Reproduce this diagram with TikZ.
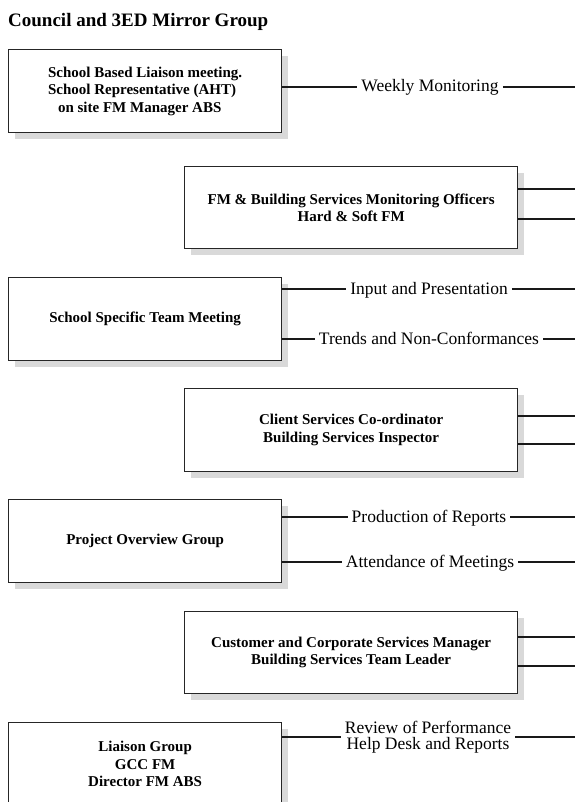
\documentclass[tikz,border=0pt]{standalone}
\usepackage{fontspec}
\setmainfont{Liberation Serif}
\usetikzlibrary{shadows}
\begin{document}
\begin{tikzpicture}[x=1pt,y=-1pt,
  box/.style={draw=black!85, line width=1.3pt, fill=white, inner sep=0pt, anchor=north west,
    font=\fontsize{15}{17.5}\selectfont\bfseries, align=center,
    drop shadow={shadow xshift=6pt, shadow yshift=-6pt, fill=black!15, opacity=1}},
  leftbox/.style={box, minimum width=273pt, minimum height=83pt},
  rightbox/.style={box, minimum width=333pt, minimum height=82pt},
  lbl/.style={font=\fontsize{17.5}{16}\selectfont, inner xsep=4pt, inner ysep=0pt,
    text height=13pt, text depth=3pt},
  lbltwo/.style={font=\fontsize{17.5}{16}\selectfont, inner xsep=4pt, inner ysep=0pt, align=center},
  link/.style={line width=1.1pt, black!90}]
\useasboundingbox[fill=white] (0,0) rectangle (575,802);

% heading
\node[anchor=base west, inner sep=0pt, font=\fontsize{19}{22}\selectfont\bfseries] (title) at (8,27)
  {Council and 3ED Mirror Group};

% boxes on the left
\node[leftbox, align=left] (b1) at (8,49)
  {School Based Liaison meeting.\\School Representative (AHT)\\\hspace*{10pt}on site FM Manager ABS};
\node[leftbox] (b3) at (8,277) {School Specific Team Meeting};
\node[leftbox] (b5) at (8,499) {Project Overview Group};
\node[leftbox] (b7) at (8,722) {Liaison Group\\GCC FM\\Director FM ABS};

% boxes on the right
\node[rightbox] (b2) at (184,166) {FM \& Building Services Monitoring Officers\\Hard \& Soft FM};
\node[rightbox, minimum height=83pt] (b4) at (184,388) {Client Services Co-ordinator\\Building Services Inspector};
\node[rightbox] (b6) at (184,611) {Customer and Corporate Services Manager\\Building Services Team Leader};

% labelled links from the left boxes
\node[lbl] (l1) at (430,87) {Weekly Monitoring};
\node[lbl] (l3a) at (429,289) {Input and Presentation};
\node[lbl] (l3b) at (429,339) {Trends and Non-Conformances};
\node[lbl] (l5a) at (429,517) {Production of Reports};
\node[lbl] (l5b) at (430,562) {Attendance of Meetings};
\node[lbltwo] (l7) at (428,737) {Review of Performance\\Help Desk and Reports};

\foreach \b/\l in {b1/l1, b3/l3a, b3/l3b, b5/l5a, b5/l5b, b7/l7} {
  \coordinate (\l-end) at (575,0 |- \l);
  \draw[link] (\b.east |- \l) -- (\l.west);
  \draw[link] (\l.east) -- (\l-end);
}

% plain links from the right boxes
\coordinate (r2a) at (575,189);
\coordinate (r2b) at (575,219);
\coordinate (r4a) at (575,416);
\coordinate (r4b) at (575,444);
\coordinate (r6a) at (575,637);
\coordinate (r6b) at (575,666);
\foreach \b/\r in {b2/r2a, b2/r2b, b4/r4a, b4/r4b, b6/r6a, b6/r6b} {
  \draw[link] (\b.east |- \r) -- (\r);
}
\end{tikzpicture}
\end{document}
